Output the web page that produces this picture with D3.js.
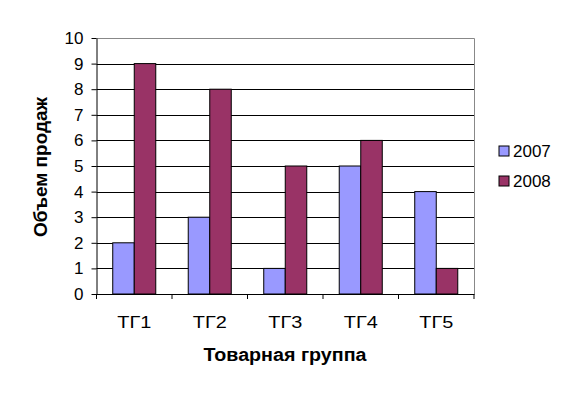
<!DOCTYPE html>
<html><head><meta charset="utf-8">
<script src="https://cdn.jsdelivr.net/npm/d3@7"></script>
<style>body{margin:0;background:#fff}svg{display:block;font-family:"Liberation Sans",Arial,sans-serif}</style>
</head><body>
<script>
const categories = ["ТГ1","ТГ2","ТГ3","ТГ4","ТГ5"];
const seriesNames = ["2007","2008"];
const values2007 = [2,3,1,5,4];
const values2008 = [9,8,5,6,1];
const yTicks = [0,1,2,3,4,5,6,7,8,9,10];
const colors = ["#9999FF","#993366"];

const W=573,H=397;
const m={left:96.5,right:474,top:38,bottom:294};
const svg=d3.select("body").append("svg").attr("width",W).attr("height",H);

const x=d3.scaleBand().domain(categories).range([m.left,m.right]).paddingInner(0).paddingOuter(0);
const inner=d3.scaleBand().domain(seriesNames).range([0,x.bandwidth()]).paddingInner(0).paddingOuter(0.755);
const y=d3.scaleLinear().domain([0,10]).range([m.bottom,m.top]);

// grid
svg.append("g").selectAll("line").data(yTicks.filter(d=>d>0&&d<10)).join("line")
 .attr("x1",m.left).attr("x2",m.right).attr("y1",d=>Math.round(y(d))+0.5).attr("y2",d=>Math.round(y(d))+0.5)
 .attr("stroke","#000").attr("stroke-width",1);
// plot border top/right
svg.append("path").attr("d",`M${m.left},${m.top+0.5}H${m.right+0.5}V${m.bottom}`).attr("fill","none").attr("stroke","#888").attr("stroke-width",1);

const data=categories.map((c,i)=>({c,vals:[values2007[i],values2008[i]]}));
const g=svg.append("g");
data.forEach(d=>{
  d.vals.forEach((v,j)=>{
    g.append("rect").attr("x",x(d.c)+inner(seriesNames[j])).attr("width",inner.bandwidth())
     .attr("y",y(v)).attr("height",y(0)-y(v))
     .attr("fill",colors[j]).attr("stroke","#000").attr("stroke-width",1);
  });
});

// y axis
const ya=svg.append("g").attr("transform",`translate(${m.left},0)`)
 .call(d3.axisLeft(y).tickValues(yTicks).tickSize(5).tickPadding(8).tickSizeOuter(0));
ya.select(".domain").attr("stroke","#000");
ya.selectAll("text").attr("font-size",17).attr("fill","#000").attr("font-family","Liberation Sans, Arial, sans-serif");
// x axis
const xa=svg.append("g").attr("transform",`translate(0,${m.bottom})`)
 .call(d3.axisBottom(x).tickSize(0).tickPadding(22));
xa.select(".domain").attr("stroke","#000");
xa.selectAll("text").attr("font-size",17).attr("fill","#000").attr("font-family","Liberation Sans, Arial, sans-serif")
 .attr("textLength",34).attr("lengthAdjust","spacingAndGlyphs");
// boundary ticks
svg.append("g").selectAll("line").data(d3.range(categories.length+1)).join("line")
 .attr("x1",i=>m.left+i*x.bandwidth()).attr("x2",i=>m.left+i*x.bandwidth())
 .attr("y1",m.bottom).attr("y2",m.bottom+5).attr("stroke","#000");

// titles
svg.append("text").attr("x",285).attr("y",361).attr("text-anchor","middle")
 .attr("font-size",18).attr("font-weight","bold").attr("textLength",163).attr("lengthAdjust","spacingAndGlyphs").text("Товарная группа");
svg.append("text").attr("transform","translate(46.5,167) rotate(-90)").attr("text-anchor","middle")
 .attr("font-size",18).attr("font-weight","bold").attr("textLength",140).attr("lengthAdjust","spacingAndGlyphs").text("Объем продаж");

// legend
const lg=svg.append("g");
seriesNames.forEach((s,i)=>{
  const yy=151+i*30;
  lg.append("rect").attr("x",499).attr("y",yy-5).attr("width",10).attr("height",10)
   .attr("fill",colors[i]).attr("stroke","#000");
  lg.append("text").attr("x",513).attr("y",yy+6).attr("font-size",17).text(s);
});
</script>
</body></html>
